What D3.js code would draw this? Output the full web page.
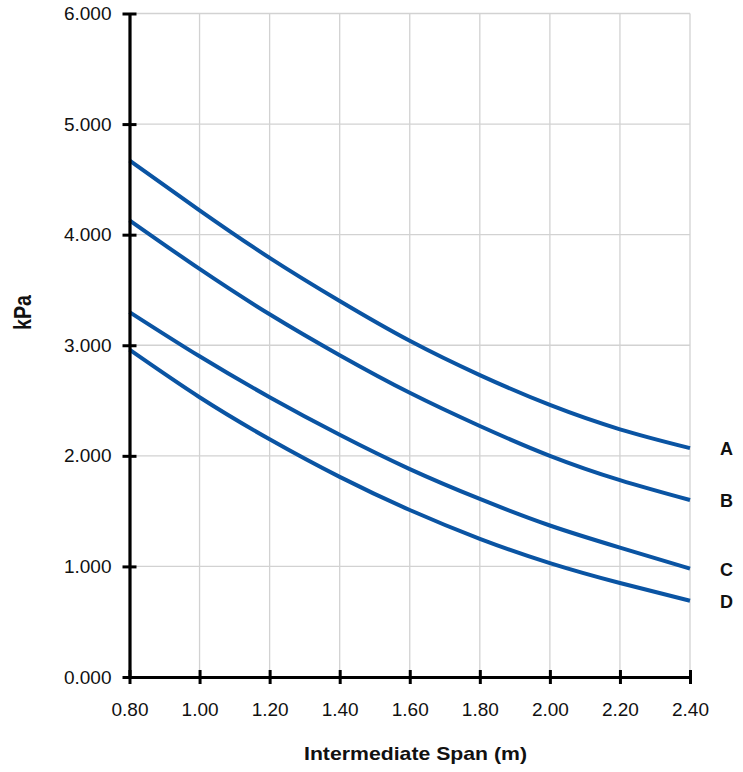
<!DOCTYPE html>
<html>
<head>
<meta charset="utf-8">
<script src="https://cdn.jsdelivr.net/npm/d3@7"></script>
<style>
  body { margin: 0; background: #fff; }
  text { font-family: "Liberation Sans", Arial, sans-serif; }
</style>
</head>
<body>
<svg id="canvas"></svg>
<script>
let spans = [0.8, 1.0, 1.2, 1.4, 1.6, 1.8, 2.0, 2.2, 2.4]
let seriesNames = ['A', 'B', 'C', 'D']
let valuesA = [4.67, 4.22, 3.79, 3.40, 3.04, 2.73, 2.46, 2.24, 2.07]
let valuesB = [4.13, 3.69, 3.28, 2.91, 2.57, 2.27, 2.00, 1.78, 1.60]
let valuesC = [3.30, 2.90, 2.53, 2.19, 1.88, 1.61, 1.37, 1.17, 0.98]
let valuesD = [2.96, 2.53, 2.15, 1.81, 1.51, 1.25, 1.03, 0.85, 0.69]
let yTicks = [0, 1, 2, 3, 4, 5, 6]

let width = 743
let height = 772
let margin = {left: 129.5, right: 53, top: 13.5, bottom: 95}

let svg = d3.select('#canvas')
  .attr('width', width)
  .attr('height', height)

let xScale = d3.scaleLinear()
  .domain([0.8, 2.4])
  .range([margin.left, width - margin.right])

let yScale = d3.scaleLinear()
  .domain([0, 6])
  .range([height - margin.bottom, margin.top])

// grid
svg.append('g')
  .selectAll('line')
  .data(spans)
  .enter()
  .append('line')
  .attr('x1', (d) => xScale(d))
  .attr('x2', (d) => xScale(d))
  .attr('y1', yScale(0))
  .attr('y2', yScale(6))
  .attr('stroke', '#d2d2d2')
  .attr('stroke-width', 1.3)

svg.append('g')
  .selectAll('line')
  .data(yTicks)
  .enter()
  .append('line')
  .attr('x1', xScale(0.8))
  .attr('x2', xScale(2.4))
  .attr('y1', (d) => yScale(d))
  .attr('y2', (d) => yScale(d))
  .attr('stroke', '#d2d2d2')
  .attr('stroke-width', 1.3)

// curves
let allSeries = [valuesA, valuesB, valuesC, valuesD]

let line = d3.line()
  .x((d, i) => xScale(spans[i]))
  .y((d) => yScale(d))
  .curve(d3.curveNatural)

svg.append('g')
  .selectAll('path')
  .data(allSeries)
  .enter()
  .append('path')
  .attr('d', (d) => line(d))
  .attr('fill', 'none')
  .attr('stroke', '#0a54a3')
  .attr('stroke-width', 4)

// series letters
svg.append('g')
  .selectAll('text')
  .data(allSeries)
  .enter()
  .append('text')
  .attr('x', 733)
  .attr('y', (d) => yScale(d[d.length - 1]) + 7)
  .attr('text-anchor', 'end')
  .attr('font-size', 18)
  .attr('font-weight', 'bold')
  .attr('fill', '#111')
  .text((d, i) => seriesNames[i])

// axes
let xAxis = d3.axisBottom(xScale)
  .tickValues(spans)
  .tickFormat(d3.format('.2f'))
  .tickSize(0)
  .tickPadding(26)

let yAxis = d3.axisLeft(yScale)
  .tickValues(yTicks)
  .tickFormat(d3.format('.3f'))
  .tickSize(0)
  .tickPadding(18)

let xg = svg.append('g')
  .attr('transform', 'translate(0,' + yScale(0) + ')')
  .call(xAxis)

let yg = svg.append('g')
  .attr('transform', 'translate(' + xScale(0.8) + ',0)')
  .call(yAxis)

;[xg, yg].forEach((g) => {
  g.select('.domain').attr('stroke', '#000').attr('stroke-width', 3.2)
  g.selectAll('.tick text')
    .attr('font-size', 19)
    .attr('fill', '#111')
    .style('font-family', '"Liberation Sans", Arial, sans-serif')
})

xg.selectAll('.tick')
  .append('line')
  .attr('y1', -7)
  .attr('y2', 7)
  .attr('stroke', '#000')
  .attr('stroke-width', 3)

yg.selectAll('.tick')
  .append('line')
  .attr('x1', -7)
  .attr('x2', 7)
  .attr('stroke', '#000')
  .attr('stroke-width', 3)

// titles
svg.append('text')
  .attr('x', 304)
  .attr('y', 760)
  .attr('font-size', 19)
  .attr('font-weight', 'bold')
  .attr('fill', '#111')
  .attr('textLength', 223)
  .attr('lengthAdjust', 'spacingAndGlyphs')
  .text('Intermediate Span (m)')

svg.append('text')
  .attr('transform', 'translate(31,330) rotate(-90)')
  .attr('font-size', 23)
  .attr('font-weight', 'bold')
  .attr('fill', '#111')
  .attr('textLength', 35)
  .attr('lengthAdjust', 'spacingAndGlyphs')
  .text('kPa')
</script>
</body>
</html>
